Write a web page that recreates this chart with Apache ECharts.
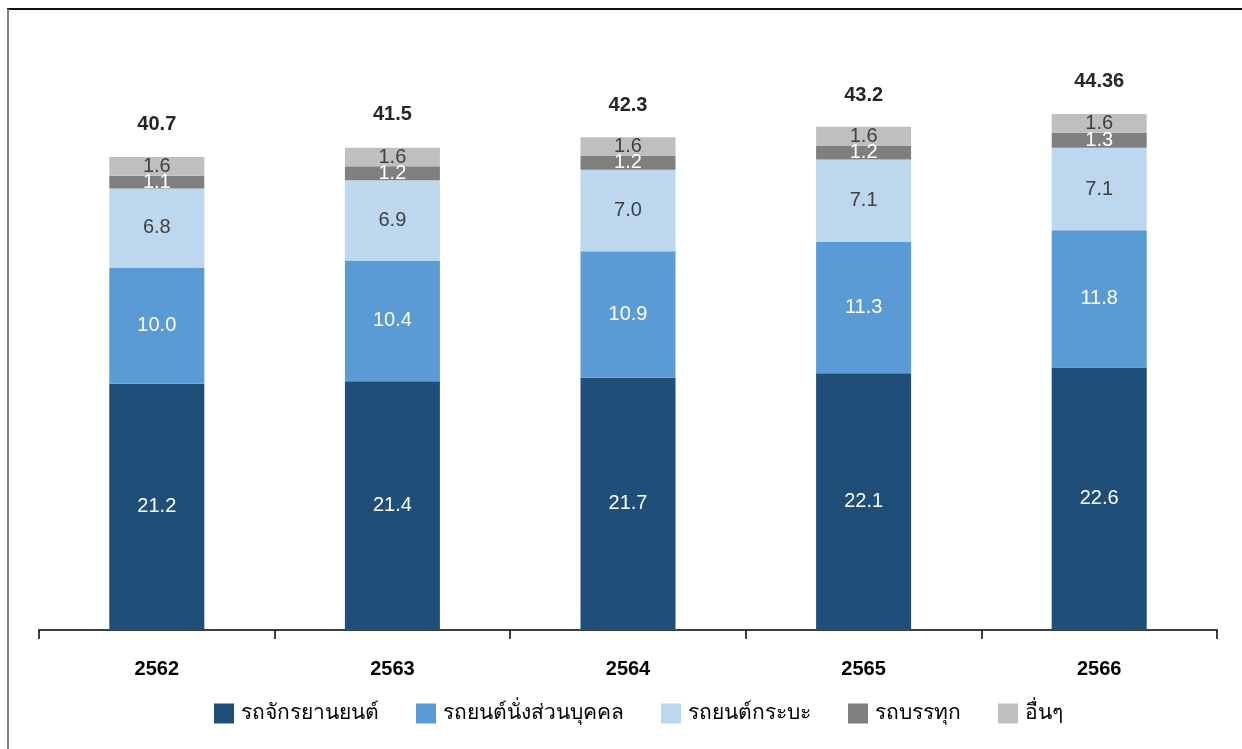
<!DOCTYPE html>
<html><head><meta charset="utf-8">
<script src="https://cdn.jsdelivr.net/npm/echarts@6/dist/echarts.min.js"></script>
<style>html,body{margin:0;padding:0;background:#fff}#c{width:1242px;height:749px}</style>
</head><body><div id="c"></div>
<script>
const categories = ['2562','2563','2564','2565','2566'];
const seriesNames = ['รถจักรยานยนต์','รถยนต์นั่งส่วนบุคคล','รถยนต์กระบะ','รถบรรทุก','อื่นๆ'];
const motorcycles = [21.2, 21.4, 21.7, 22.1, 22.6];
const passengerCars = [10.0, 10.4, 10.9, 11.3, 11.8];
const pickups = [6.8, 6.9, 7.0, 7.1, 7.1];
const trucks = [1.1, 1.2, 1.2, 1.2, 1.3];
const others = [1.6, 1.6, 1.6, 1.6, 1.6];
const totals = [40.7, 41.5, 42.3, 43.2, 44.36];
const totalLabels = ['40.7','41.5','42.3','43.2','44.36'];

const colors = ['#1F4E79','#5B9BD5','#BDD7EE','#7F7F7F','#BFBFBF'];
const labelColors = ['#ffffff','#ffffff','#404040','#ffffff','#404040'];
const values = [motorcycles, passengerCars, pickups, trucks, others];
const font = '"Liberation Sans", Arial, "Noto Sans", sans-serif';

const chart = echarts.init(document.getElementById('c'));
const series = values.map((v, i) => ({
  name: seriesNames[i], type: 'bar', stack: 'total', barWidth: 95,
  itemStyle: { color: colors[i] },
  data: v,
  label: { show: true, position: 'inside', color: labelColors[i], fontSize: 20, fontFamily: font,
    formatter: p => p.value.toFixed(1) },
  emphasis: { disabled: true }
}));
series.push({
  name: 'total', type: 'scatter', symbolSize: 0, data: totals,
  itemStyle: { opacity: 1 },
  label: { show: true, position: 'top', distance: 23, color: '#262626', opacity: 1, fontSize: 20, fontWeight: 'bold', fontFamily: font,
    formatter: p => totalLabels[p.dataIndex] },
  emphasis: { disabled: true },
  z: 10
});
chart.setOption({
  animation: false,
  backgroundColor: '#fff',
  grid: { left: 39, right: 25, top: 49, bottom: 119, containLabel: false },
  legend: {
    data: seriesNames, bottom: 20, left: 209, itemWidth: 20, itemHeight: 20, itemGap: 37,
    icon: 'rect', textStyle: { fontSize: 21, color: '#000', fontFamily: font, padding: [0, 0, 0, 2] }
  },
  xAxis: {
    type: 'category', data: categories,
    axisLine: { lineStyle: { color: '#000', width: 1.5 } },
    axisTick: { show: true, length: 9, lineStyle: { color: '#000', width: 1.5 } },
    axisLabel: { fontSize: 20, fontWeight: 'bold', color: '#000', margin: 29, fontFamily: font }
  },
  yAxis: { type: 'value', min: 0, max: 50, show: false, splitLine: { show: false } },
  series: series,
  graphic: [
    { type: 'line', shape: { x1: 7, y1: 9, x2: 1242, y2: 9 }, style: { stroke: '#111', lineWidth: 2 } },
    { type: 'line', shape: { x1: 8, y1: 9, x2: 8, y2: 749 }, style: { stroke: '#808080', lineWidth: 2 } }
  ]
});
</script></body></html>
